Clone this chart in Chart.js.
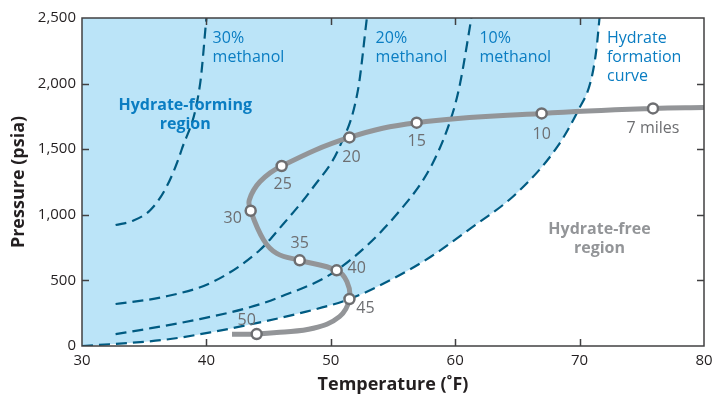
<!DOCTYPE html>
<html>
<head>
<meta charset="utf-8">
<script src="https://cdn.jsdelivr.net/npm/chart.js@4.4.0/dist/chart.umd.min.js"></script>
<style>
  html, body { margin: 0; padding: 0; background: #fff; }
  #wrap { width: 713px; height: 400px; }
</style>
</head>
<body>
<div id="wrap"><canvas id="grafico"></canvas></div>
<script>
// Curva de formação de hidrato (T em °F, P em psia)
const hydrateT = [30, 36.5, 40.5, 43.7, 47.3, 51.5, 54.8, 58, 61, 65, 68.2, 69.9, 70.9, 71.35, 71.6];
const hydrateP = [0, 46, 107, 168, 245, 358, 503, 678, 880, 1170, 1517, 1799, 2020, 2260, 2500];

// Curvas com metanol
const meth10T = [32.7, 35.2, 39.2, 43.3, 45.9, 50.5, 55.6, 58.2, 59.8, 60.4, 61.3];
const meth10P = [91, 130, 200, 290, 373, 579, 1037, 1395, 1776, 2004, 2500];
const meth20T = [32.7, 36.5, 40.5, 44.3, 45.9, 48.6, 50.7, 52.2, 52.9];
const meth20P = [320, 373, 488, 732, 899, 1212, 1517, 1960, 2500];
const meth30T = [32.7, 34.1, 35.5, 36.8, 38.0, 39.5, 40.0];
const meth30P = [922, 955, 1037, 1214, 1494, 2002, 2500];

// Perfil do duto (temperatura e pressão ao longo do caminho)
const pipeT = [80, 75.9, 66.95, 56.9, 51.5, 46.05, 44.3, 43.45, 43.56, 44.6, 45.65, 47.5, 50.47, 51.3, 51.5, 50.7, 48.6, 45.9, 44.04, 42.06];
const pipeP = [1817, 1811, 1773, 1702, 1590, 1372, 1252, 1113, 1031, 808, 706, 653, 577, 490, 358, 224, 135, 104, 91, 90];

// Marcos em milhas
const milesLabels = ['7 miles', '10', '15', '20', '25', '30', '35', '40', '45', '50'];
const milesT = [75.9, 66.95, 56.9, 51.5, 46.05, 43.56, 47.5, 50.47, 51.5, 44.04];
const milesP = [1811, 1773, 1702, 1590, 1372, 1031, 653, 577, 358, 91];

const yTicks = [0, 500, 1000, 1500, 2000, 2500];

const pares = (xs, ys) => xs.map((x, i) => ({ x: x, y: ys[i] }));

const FONTE = '"Open Sans", sans-serif';
const AZUL_ESCURO = '#005b82';

// deslocamento dos rótulos de milhas em relação ao ponto
const offsetsMilhas = [[0, 20], [0, 21], [0, 19], [2, 20], [1, 18], [-18, 8], [0, -17], [20, -2], [16, 9], [-10, -14]];

const notas = [
    { t: ['30%', 'methanol'], x: 40.5, y: 2348, align: 'left', cor: '#0a7dc2', bold: false },
    { t: ['20%', 'methanol'], x: 53.6, y: 2348, align: 'left', cor: '#0a7dc2', bold: false },
    { t: ['10%', 'methanol'], x: 61.95, y: 2348, align: 'left', cor: '#0a7dc2', bold: false },
    { t: ['Hydrate', 'formation', 'curve'], x: 72.2, y: 2348, align: 'left', cor: '#0a7dc2', bold: false },
    { t: ['Hydrate-forming', 'region'], x: 38.3, y: 1830, align: 'center', cor: '#0a7dc2', bold: true },
    { t: ['Hydrate-free', 'region'], x: 71.6, y: 885, align: 'center', cor: '#939598', bold: true }
];

const pluginMoldura = {
    id: 'moldura',
    afterDatasetsDraw(chart) {
        const { ctx, chartArea: a, scales: { x, y } } = chart;
        ctx.save();
        // rótulos das milhas
        ctx.font = '16px ' + FONTE;
        ctx.fillStyle = '#6d6e71';
        ctx.textAlign = 'center';
        ctx.textBaseline = 'middle';
        milesLabels.forEach((lab, i) => {
            const px = x.getPixelForValue(milesT[i]) + offsetsMilhas[i][0];
            const py = y.getPixelForValue(milesP[i]) + offsetsMilhas[i][1];
            ctx.fillText(lab, px, py);
        });
        // notas de texto
        notas.forEach(n => {
            ctx.font = (n.bold ? 'bold ' : '') + '16px ' + FONTE;
            ctx.fillStyle = n.cor;
            ctx.textAlign = n.align;
            n.t.forEach((linha, k) => {
                ctx.fillText(linha, x.getPixelForValue(n.x), y.getPixelForValue(n.y) + k * 19);
            });
        });
        // moldura e marcas internas
        ctx.strokeStyle = '#414042';
        ctx.lineWidth = 1.5;
        ctx.strokeRect(a.left, a.top, a.right - a.left, a.bottom - a.top);
        ctx.beginPath();
        [40, 50, 60, 70].forEach(v => {
            const px = Math.round(x.getPixelForValue(v)) + 0.5;
            ctx.moveTo(px, a.bottom); ctx.lineTo(px, a.bottom - 7);
            ctx.moveTo(px, a.top); ctx.lineTo(px, a.top + 7);
        });
        [500, 1000, 1500, 2000].forEach(v => {
            const py = Math.round(y.getPixelForValue(v)) + 0.5;
            ctx.moveTo(a.left, py); ctx.lineTo(a.left + 7, py);
            ctx.moveTo(a.right, py); ctx.lineTo(a.right - 7, py);
        });
        ctx.stroke();
        ctx.restore();
    }
};

const linhaTracejada = (dados, ordem) => ({
    data: dados,
    borderColor: AZUL_ESCURO,
    borderWidth: 2.2,
    borderDash: [11, 6],
    pointRadius: 0,
    cubicInterpolationMode: 'monotone',
    fill: false,
    order: ordem
});

const hidrato = linhaTracejada(pares(hydrateT, hydrateP), 5);
hidrato.fill = 'end';
hidrato.backgroundColor = 'rgb(187, 228, 248)';

new Chart(document.getElementById('grafico'), {
    type: 'line',
    data: {
        datasets: [
            {
                data: pares(milesT, milesP),
                showLine: false,
                pointRadius: 5,
                pointBorderWidth: 2.5,
                pointBackgroundColor: '#ffffff',
                pointBorderColor: '#6d6e71',
                order: 0
            },
            {
                data: pares(pipeT, pipeP),
                borderColor: '#939598',
                borderWidth: 5,
                pointRadius: 0,
                tension: 0.4,
                fill: false,
                order: 1
            },
            linhaTracejada(pares(meth10T, meth10P), 2),
            linhaTracejada(pares(meth20T, meth20P), 3),
            linhaTracejada(pares(meth30T, meth30P), 4),
            hidrato
        ]
    },
    options: {
        responsive: true,
        maintainAspectRatio: false,
        animation: false,
        layout: { padding: { top: 18, right: 9, left: 0, bottom: 0 } },
        plugins: { legend: { display: false }, tooltip: { enabled: false } },
        scales: {
            x: {
                type: 'linear',
                min: 30,
                max: 80,
                grid: { display: false, drawTicks: false },
                border: { display: false },
                ticks: { stepSize: 10, padding: 6, color: '#231f20', font: { family: FONTE, size: 15 } },
                title: { display: true, text: 'Temperature (˚F)', color: '#231f20', padding: { top: 2, bottom: 4 },
                         font: { family: FONTE, size: 18, weight: 'bold' } },
                afterFit(s) { s.height = 54; s.paddingLeft = 0; s.paddingRight = 0; }
            },
            y: {
                min: 0,
                max: 2500,
                grid: { display: false, drawTicks: false },
                border: { display: false },
                afterBuildTicks(s) { s.ticks = yTicks.map(v => ({ value: v })); },
                ticks: { padding: 6, color: '#231f20', font: { family: FONTE, size: 15 },
                         callback: v => v.toLocaleString('en-US') },
                title: { display: true, text: 'Pressure (psia)', color: '#231f20', padding: { top: 8, bottom: 0 },
                         font: { family: FONTE, size: 18, weight: 'bold' } },
                afterFit(s) { s.width = 82; }
            }
        }
    },
    plugins: [pluginMoldura]
});
</script>
</body>
</html>
